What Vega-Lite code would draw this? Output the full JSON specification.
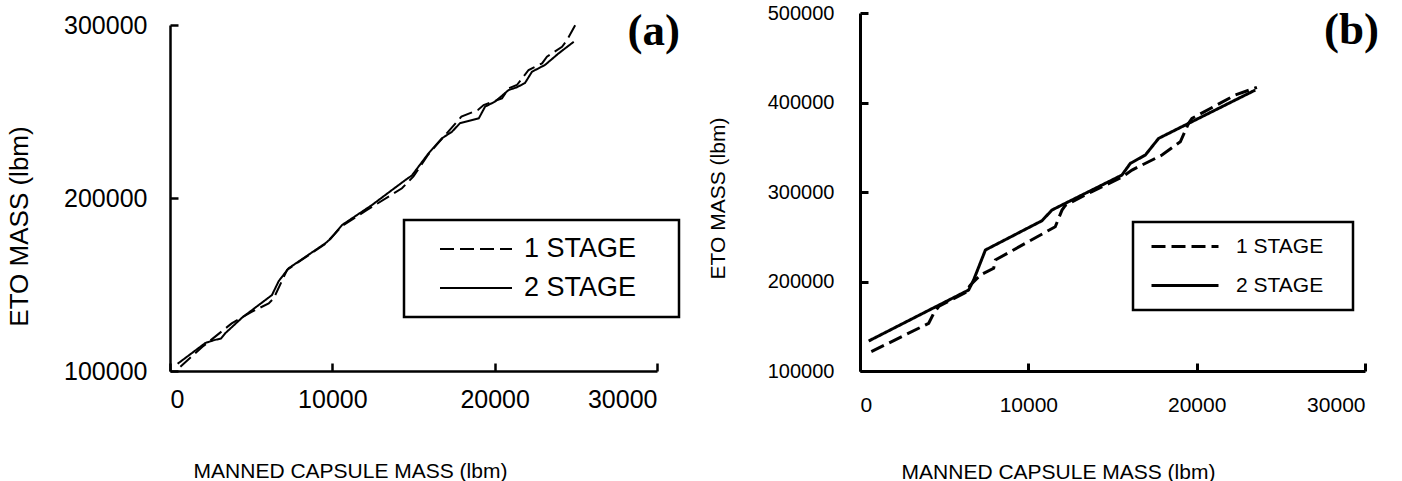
{
  "$schema": "https://vega.github.io/schema/vega-lite/v6.json",
  "background": "white",
  "padding": {"left": 5, "top": 3, "right": 0, "bottom": 0},
  "bounds": "flush",
  "spacing": 203,
  "config": {
    "view": {"stroke": null},
    "font": "Liberation Sans",
    "axis": {"grid": false, "domainColor": "black", "tickColor": "black", "labelColor": "black", "titleColor": "black", "labelFont": "Liberation Sans", "titleFont": "Liberation Sans", "titleFontWeight": "normal"},
    "legend": {"labelFont": "Liberation Sans", "labelColor": "black", "strokeWidth": 2.5}
  },
  "datasets": {
    "a": [
      {"capsule": 470, "eto": 104200, "stage": "2 STAGE"},
      {"capsule": 2180, "eto": 116200, "stage": "2 STAGE"},
      {"capsule": 2700, "eto": 117800, "stage": "2 STAGE"},
      {"capsule": 3150, "eto": 118800, "stage": "2 STAGE"},
      {"capsule": 3400, "eto": 121800, "stage": "2 STAGE"},
      {"capsule": 4460, "eto": 131000, "stage": "2 STAGE"},
      {"capsule": 6280, "eto": 143900, "stage": "2 STAGE"},
      {"capsule": 6700, "eto": 152000, "stage": "2 STAGE"},
      {"capsule": 7310, "eto": 159400, "stage": "2 STAGE"},
      {"capsule": 9570, "eto": 173800, "stage": "2 STAGE"},
      {"capsule": 9900, "eto": 176500, "stage": "2 STAGE"},
      {"capsule": 10600, "eto": 184400, "stage": "2 STAGE"},
      {"capsule": 12450, "eto": 196000, "stage": "2 STAGE"},
      {"capsule": 14500, "eto": 210400, "stage": "2 STAGE"},
      {"capsule": 14900, "eto": 213000, "stage": "2 STAGE"},
      {"capsule": 15900, "eto": 225500, "stage": "2 STAGE"},
      {"capsule": 16750, "eto": 234500, "stage": "2 STAGE"},
      {"capsule": 17370, "eto": 238300, "stage": "2 STAGE"},
      {"capsule": 17870, "eto": 243300, "stage": "2 STAGE"},
      {"capsule": 19020, "eto": 246000, "stage": "2 STAGE"},
      {"capsule": 19410, "eto": 252800, "stage": "2 STAGE"},
      {"capsule": 20020, "eto": 255700, "stage": "2 STAGE"},
      {"capsule": 20860, "eto": 262400, "stage": "2 STAGE"},
      {"capsule": 21370, "eto": 264000, "stage": "2 STAGE"},
      {"capsule": 21870, "eto": 266500, "stage": "2 STAGE"},
      {"capsule": 22300, "eto": 273000, "stage": "2 STAGE"},
      {"capsule": 23100, "eto": 276900, "stage": "2 STAGE"},
      {"capsule": 23940, "eto": 283600, "stage": "2 STAGE"},
      {"capsule": 24870, "eto": 290300, "stage": "2 STAGE"},
      {"capsule": 640, "eto": 102500, "stage": "1 STAGE"},
      {"capsule": 2000, "eto": 114000, "stage": "1 STAGE"},
      {"capsule": 3800, "eto": 127500, "stage": "1 STAGE"},
      {"capsule": 5000, "eto": 134000, "stage": "1 STAGE"},
      {"capsule": 6080, "eto": 139100, "stage": "1 STAGE"},
      {"capsule": 6390, "eto": 142000, "stage": "1 STAGE"},
      {"capsule": 7210, "eto": 158400, "stage": "1 STAGE"},
      {"capsule": 9570, "eto": 173500, "stage": "1 STAGE"},
      {"capsule": 10600, "eto": 183800, "stage": "1 STAGE"},
      {"capsule": 12140, "eto": 193100, "stage": "1 STAGE"},
      {"capsule": 14290, "eto": 205600, "stage": "1 STAGE"},
      {"capsule": 15000, "eto": 212500, "stage": "1 STAGE"},
      {"capsule": 15900, "eto": 225000, "stage": "1 STAGE"},
      {"capsule": 16860, "eto": 235400, "stage": "1 STAGE"},
      {"capsule": 17950, "eto": 247000, "stage": "1 STAGE"},
      {"capsule": 18970, "eto": 250900, "stage": "1 STAGE"},
      {"capsule": 19320, "eto": 253700, "stage": "1 STAGE"},
      {"capsule": 20450, "eto": 257600, "stage": "1 STAGE"},
      {"capsule": 20860, "eto": 263400, "stage": "1 STAGE"},
      {"capsule": 21370, "eto": 265300, "stage": "1 STAGE"},
      {"capsule": 22090, "eto": 274000, "stage": "1 STAGE"},
      {"capsule": 22920, "eto": 277800, "stage": "1 STAGE"},
      {"capsule": 23220, "eto": 281700, "stage": "1 STAGE"},
      {"capsule": 24150, "eto": 287400, "stage": "1 STAGE"},
      {"capsule": 24460, "eto": 291300, "stage": "1 STAGE"},
      {"capsule": 24970, "eto": 300000, "stage": "1 STAGE"}
    ],
    "b": [
      {"capsule": 515, "eto": 133500, "stage": "2 STAGE"},
      {"capsule": 4500, "eto": 171800, "stage": "2 STAGE"},
      {"capsule": 6455, "eto": 190500, "stage": "2 STAGE"},
      {"capsule": 6750, "eto": 201700, "stage": "2 STAGE"},
      {"capsule": 7450, "eto": 235200, "stage": "2 STAGE"},
      {"capsule": 10810, "eto": 267900, "stage": "2 STAGE"},
      {"capsule": 11400, "eto": 279800, "stage": "2 STAGE"},
      {"capsule": 11990, "eto": 285400, "stage": "2 STAGE"},
      {"capsule": 13780, "eto": 302200, "stage": "2 STAGE"},
      {"capsule": 15560, "eto": 318900, "stage": "2 STAGE"},
      {"capsule": 16060, "eto": 332000, "stage": "2 STAGE"},
      {"capsule": 16950, "eto": 341300, "stage": "2 STAGE"},
      {"capsule": 17740, "eto": 359900, "stage": "2 STAGE"},
      {"capsule": 19320, "eto": 374800, "stage": "2 STAGE"},
      {"capsule": 23480, "eto": 413900, "stage": "2 STAGE"},
      {"capsule": 672, "eto": 121600, "stage": "1 STAGE"},
      {"capsule": 4080, "eto": 153300, "stage": "1 STAGE"},
      {"capsule": 4380, "eto": 164500, "stage": "1 STAGE"},
      {"capsule": 4700, "eto": 172500, "stage": "1 STAGE"},
      {"capsule": 6260, "eto": 187500, "stage": "1 STAGE"},
      {"capsule": 6550, "eto": 196000, "stage": "1 STAGE"},
      {"capsule": 7150, "eto": 207200, "stage": "1 STAGE"},
      {"capsule": 7940, "eto": 214700, "stage": "1 STAGE"},
      {"capsule": 8040, "eto": 224000, "stage": "1 STAGE"},
      {"capsule": 11600, "eto": 261200, "stage": "1 STAGE"},
      {"capsule": 12000, "eto": 279800, "stage": "1 STAGE"},
      {"capsule": 12200, "eto": 285000, "stage": "1 STAGE"},
      {"capsule": 13780, "eto": 300500, "stage": "1 STAGE"},
      {"capsule": 15560, "eto": 316500, "stage": "1 STAGE"},
      {"capsule": 16160, "eto": 324500, "stage": "1 STAGE"},
      {"capsule": 17940, "eto": 341300, "stage": "1 STAGE"},
      {"capsule": 19030, "eto": 356100, "stage": "1 STAGE"},
      {"capsule": 19520, "eto": 376700, "stage": "1 STAGE"},
      {"capsule": 19720, "eto": 382200, "stage": "1 STAGE"},
      {"capsule": 22290, "eto": 408300, "stage": "1 STAGE"},
      {"capsule": 23580, "eto": 416900, "stage": "1 STAGE"}
    ]
  },
  "hconcat": [
    {
      "width": 487,
      "height": 358,
      "layer": [
        {
          "data": {"name": "a"},
          "mark": {"type": "line", "color": "black", "strokeWidth": 2},
          "encoding": {
            "x": {"field": "capsule", "type": "quantitative",
              "scale": {"domain": [0, 30000]},
              "axis": {"values": [0, 10000, 20000, 30000], "format": "d", "labelFontSize": 25, "tickSize": -8, "tickWidth": 2.5, "domainWidth": 2.5, "labelPadding": 24,
                "title": "MANNED CAPSULE MASS (lbm)", "titleFontSize": 21, "titleX": 180, "titleY": 106, "titleBaseline": "alphabetic", "titleAlign": "center"}},
            "y": {"field": "eto", "type": "quantitative",
              "scale": {"domain": [100000, 300000], "range": [358, 12]},
              "axis": {"values": [100000, 200000, 300000], "format": "d", "labelFontSize": 25, "tickSize": -8, "tickWidth": 2.5, "domainWidth": 2.5, "labelPadding": 31,
                "title": "ETO MASS (lbm)", "titleFontSize": 26, "titleX": -143, "titleY": 213, "titleBaseline": "alphabetic", "titleAlign": "center", "titleAngle": -90}},
            "strokeDash": {"field": "stage", "type": "nominal",
              "scale": {"domain": ["1 STAGE", "2 STAGE"], "range": [[14, 6], [1, 0]]},
              "legend": {"title": " ", "titleOrient": "right", "titlePadding": 27, "titleFontSize": 6,
                "orient": "none", "legendX": 234, "legendY": 207, "strokeColor": "black", "padding": 16, "symbolOffset": 19,
                "symbolType": "stroke", "symbolSize": 5184, "symbolStrokeWidth": 2, "symbolStrokeColor": "black", "clipHeight": 26,
                "labelFontSize": 27, "labelOffset": 11, "rowPadding": 12}}
          }
        },
        {
          "data": {"values": [{}]},
          "mark": {"type": "text", "text": "(a)", "font": "Liberation Serif", "fontSize": 45, "fontWeight": "bold", "align": "center", "baseline": "middle", "color": "black"},
          "encoding": {
            "x": {"datum": 29800, "type": "quantitative"},
            "y": {"datum": 296500, "type": "quantitative"}
          }
        }
      ]
    },
    {
      "width": 505,
      "height": 358,
      "layer": [
        {
          "data": {"name": "b"},
          "mark": {"type": "line", "color": "black", "strokeWidth": 3},
          "encoding": {
            "x": {"field": "capsule", "type": "quantitative",
              "scale": {"domain": [0, 30000]},
              "axis": {"values": [0, 10000, 20000, 30000], "format": "d", "labelFontSize": 21, "tickSize": -8, "tickWidth": 3, "domainWidth": 3, "labelPadding": 31,
                "title": "MANNED CAPSULE MASS (lbm)", "titleFontSize": 21, "titleX": 198, "titleY": 107, "titleBaseline": "alphabetic", "titleAlign": "center"}},
            "y": {"field": "eto", "type": "quantitative",
              "scale": {"domain": [100000, 500000]},
              "axis": {"values": [100000, 200000, 300000, 400000, 500000], "format": "d", "labelFontSize": 20, "tickSize": -8, "tickWidth": 3, "domainWidth": 3, "labelPadding": 34,
                "title": "ETO MASS (lbm)", "titleFontSize": 21, "titleX": -136, "titleY": 185, "titleBaseline": "alphabetic", "titleAlign": "center", "titleAngle": -90}},
            "strokeDash": {"field": "stage", "type": "nominal",
              "scale": {"domain": ["1 STAGE", "2 STAGE"], "range": [[14, 6], [1, 0]]},
              "legend": {"title": " ", "titleOrient": "right", "titlePadding": 16, "titleFontSize": 6,
                "orient": "none", "legendX": 273, "legendY": 209, "strokeColor": "black", "padding": 14, "symbolOffset": 3,
                "symbolType": "stroke", "symbolSize": 4489, "symbolStrokeWidth": 3, "symbolStrokeColor": "black", "clipHeight": 21,
                "labelFontSize": 21, "labelOffset": 16, "rowPadding": 17}}
          }
        },
        {
          "data": {"values": [{}]},
          "mark": {"type": "text", "text": "(b)", "font": "Liberation Serif", "fontSize": 45, "fontWeight": "bold", "align": "center", "baseline": "middle", "color": "black"},
          "encoding": {
            "x": {"datum": 29200, "type": "quantitative"},
            "y": {"datum": 481000, "type": "quantitative"}
          }
        }
      ]
    }
  ],
  "resolve": {"scale": {"strokeDash": "independent"}, "legend": {"strokeDash": "independent"}}
}
